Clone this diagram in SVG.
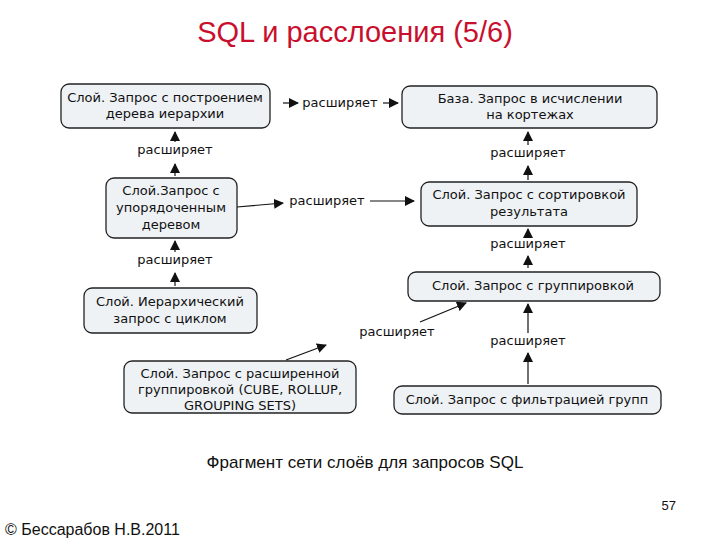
<svg xmlns="http://www.w3.org/2000/svg" width="720" height="540" viewBox="0 0 720 540">
<style>
.n{fill:#eef2f5;stroke:#222;stroke-width:1.3}
.t{font-family:"DejaVu Sans",sans-serif;font-size:13px;fill:#111;text-anchor:middle}
.e{stroke:#111;stroke-width:1.2;fill:none}
</style>
<defs><marker id="a" viewBox="0 0 10 10" refX="9" refY="5" markerWidth="10" markerHeight="10" orient="auto" markerUnits="userSpaceOnUse"><path d="M0,0L10,5L0,10z" fill="#111"/></marker></defs>
<rect width="720" height="540" fill="#fff"/>
<text x="355" y="42" font-family="Liberation Sans,sans-serif" font-size="29" fill="#c8102e" text-anchor="middle">SQL и расслоения (5/6)</text>
<g id="n1"><rect class="n" x="61" y="84" width="209" height="44" rx="8"/><text class="t" x="165" y="102">Слой. Запрос с построением</text><text class="t" x="165" y="118">дерева иерархии</text></g>
<g id="n2"><rect class="n" x="402" y="86" width="255" height="42" rx="8"/><text class="t" x="530" y="103">База. Запрос в исчислении</text><text class="t" x="530" y="119">на кортежах</text></g>
<g id="n3"><rect class="n" x="106" y="178" width="131" height="60" rx="8"/><text class="t" x="171" y="195">Слой.Запрос с</text><text class="t" x="171" y="212">упорядоченным</text><text class="t" x="171" y="229">деревом</text></g>
<g id="n4"><rect class="n" x="421" y="182" width="216" height="44" rx="8"/><text class="t" x="529" y="199">Слой. Запрос с сортировкой</text><text class="t" x="529" y="216">результата</text></g>
<g id="n5"><rect class="n" x="84" y="288" width="173" height="45" rx="8"/><text class="t" x="170" y="306">Слой. Иерархический</text><text class="t" x="170" y="323">запрос с циклом</text></g>
<g id="n6"><rect class="n" x="408" y="272" width="252" height="29" rx="8"/><text class="t" x="533" y="290">Слой. Запрос с группировкой</text></g>
<g id="n7"><rect class="n" x="124" y="361" width="232" height="52" rx="8"/><text class="t" x="240" y="378">Слой. Запрос с расширенной</text><text class="t" x="240" y="394">группировкой (CUBE, ROLLUP,</text><text class="t" x="240" y="410">GROUPING SETS)</text></g>
<g id="n8"><rect class="n" x="394" y="386" width="267" height="28" rx="8"/><text class="t" x="527" y="404">Слой. Запрос с фильтрацией групп</text></g>
<g id="edges">
<line class="e" x1="283" y1="103" x2="298" y2="103" marker-end="url(#a)"/><text class="t" x="340" y="107">расширяет</text><line class="e" x1="383" y1="103" x2="398" y2="103" marker-end="url(#a)"/>
<line class="e" x1="175" y1="176" x2="175" y2="164" marker-end="url(#a)"/><text class="t" x="175" y="154">расширяет</text><line class="e" x1="175" y1="142" x2="175" y2="132" marker-end="url(#a)"/>
<line class="e" x1="175" y1="286" x2="175" y2="273" marker-end="url(#a)"/><text class="t" x="175" y="264">расширяет</text><line class="e" x1="175" y1="252" x2="175" y2="241" marker-end="url(#a)"/>
<line class="e" x1="528" y1="180" x2="528" y2="166" marker-end="url(#a)"/><text class="t" x="528" y="157">расширяет</text><line class="e" x1="528" y1="145" x2="528" y2="132" marker-end="url(#a)"/>
<line class="e" x1="528" y1="268" x2="528" y2="256" marker-end="url(#a)"/><text class="t" x="528" y="248">расширяет</text><line class="e" x1="528" y1="237" x2="528" y2="229" marker-end="url(#a)"/>
<line class="e" x1="528" y1="384" x2="528" y2="353" marker-end="url(#a)"/><text class="t" x="528" y="345">расширяет</text><line class="e" x1="528" y1="333" x2="528" y2="304" marker-end="url(#a)"/>
<line class="e" x1="237" y1="207" x2="283" y2="203" marker-end="url(#a)"/><text class="t" x="327" y="205">расширяет</text><line class="e" x1="370" y1="201" x2="414" y2="201" marker-end="url(#a)"/>
<line class="e" x1="286" y1="360" x2="326" y2="345" marker-end="url(#a)"/><text class="t" x="397" y="336">расширяет</text><line class="e" x1="420" y1="322" x2="466" y2="303" marker-end="url(#a)"/>
</g>
<text x="365" y="468" font-family="Liberation Sans,sans-serif" font-size="17" fill="#111" text-anchor="middle">Фрагмент сети слоёв для запросов SQL</text>
<text x="676" y="510" font-family="Liberation Sans,sans-serif" font-size="13" fill="#111" text-anchor="end">57</text>
<text x="5" y="535" font-family="Liberation Sans,sans-serif" font-size="16" fill="#111">© Бессарабов Н.В.2011</text>
</svg>
